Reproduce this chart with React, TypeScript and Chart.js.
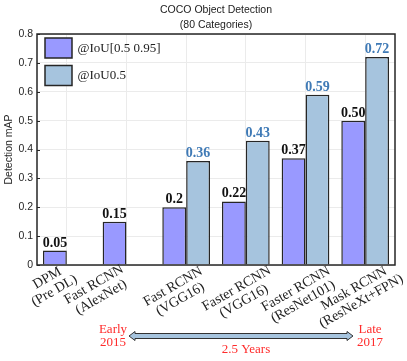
import React, { useEffect, useRef } from "react";
import { Chart, registerables } from "chart.js";

Chart.register(...registerables);

const categories: string[][] = [
  ["DPM", "(Pre DL)"],
  ["Fast RCNN", "(AlexNet)"],
  ["Fast RCNN", "(VGG16)"],
  ["Faster RCNN", "(VGG16)"],
  ["Faster RCNN", "(ResNet101)"],
  ["Mask RCNN", "(ResNeXt+FPN)"],
];
const iouRange: (number | null)[] = [0.05, 0.15, 0.2, 0.22, 0.37, 0.5];
const iou50: (number | null)[] = [null, null, 0.36, 0.43, 0.59, 0.72];
const iouRangeText: string[] = ["0.05", "0.15", "0.2", "0.22", "0.37", "0.50"];
const iou50Text: string[] = ["", "", "0.36", "0.43", "0.59", "0.72"];
const seriesNames: string[] = ["@IoU[0.5 0.95]", "@IoU0.5"];
const yTicks: string[] = ["0", "0.1", "0.2", "0.3", "0.4", "0.5", "0.6", "0.7", "0.8"];
const titleLines: string[] = ["COCO Object Detection", "(80 Categories)"];

// label placement (style): offset of rotated label block centre from its tick
const labelDx: number[] = [-16, -29, -9.5, -5.5, -6, -7.5];
const labelDy: number[] = [19.5, 26, 28, 30, 30.5, 30];

const PURPLE = "#9999ff";
const LIGHTBLUE = "#a6c4de";
const EDGE = "#262626";
const VALBLUE = "#3f7ab6";
const RED = "#ff2b2b";
const SERIF = "'Liberation Serif', 'Times New Roman', serif";
const SANS = "'Liberation Sans', Arial, sans-serif";

const decorPlugin = {
  id: "decor",
  afterDatasetsDraw(chart: any) {
    const ctx = chart.ctx;
    const ca = chart.chartArea;
    const xs = chart.scales.x;
    const ys = chart.scales.y;
    ctx.save();

    // inner tick marks on y axis
    ctx.strokeStyle = EDGE;
    ctx.lineWidth = 1;
    yTicks.forEach((_, i) => {
      const y = Math.round(ys.getPixelForValue(i * 0.1)) + 0.5;
      ctx.beginPath();
      ctx.moveTo(ca.left, y);
      ctx.lineTo(ca.left + 3, y);
      ctx.stroke();
    });

    // plot box
    ctx.strokeStyle = EDGE;
    ctx.lineWidth = 1.5;
    ctx.strokeRect(ca.left, ca.top, ca.right - ca.left, ca.bottom - ca.top);

    // value labels
    ctx.font = `bold 14px ${SERIF}`;
    ctx.textAlign = "center";
    ctx.textBaseline = "alphabetic";
    const texts = [iouRangeText, iou50Text];
    const colors = ["#111111", VALBLUE];
    [0, 1].forEach((d) => {
      const meta = chart.getDatasetMeta(d);
      meta.data.forEach((bar: any, i: number) => {
        const t = texts[d][i];
        if (!t) return;
        ctx.fillStyle = colors[d];
        ctx.fillText(t, bar.x, bar.y - 4);
      });
    });

    // legend
    const fills = [PURPLE, LIGHTBLUE];
    ctx.font = `13px ${SERIF}`;
    ctx.textAlign = "left";
    ctx.textBaseline = "middle";
    seriesNames.forEach((name, i) => {
      const x = ca.left + 8;
      const y = ca.top + 4 + i * 27.5;
      ctx.fillStyle = fills[i];
      ctx.fillRect(x, y, 27, 20);
      ctx.strokeStyle = EDGE;
      ctx.lineWidth = 1.5;
      ctx.strokeRect(x, y, 27, 20);
      ctx.fillStyle = "#222222";
      ctx.fillText(name, x + 32.5, y + 10.5);
    });

    // title
    ctx.font = `10.5px ${SANS}`;
    ctx.fillStyle = "#222222";
    ctx.textAlign = "center";
    const cx = (ca.left + ca.right) / 2;
    ctx.fillText(titleLines[0], cx, 10.5);
    ctx.fillText(titleLines[1], cx, 25);

    // rotated category labels
    ctx.font = `14px ${SERIF}`;
    ctx.fillStyle = "#222222";
    ctx.textAlign = "center";
    ctx.textBaseline = "middle";
    const lh = 14.5;
    categories.forEach((lines, i) => {
      const tx = xs.getPixelForValue(i) + labelDx[i];
      const ty = ca.bottom + labelDy[i];
      ctx.save();
      ctx.translate(tx, ty);
      ctx.rotate(-Math.PI / 6);
      lines.forEach((ln, k) => {
        ctx.fillText(ln, 0, (k - (lines.length - 1) / 2) * lh);
      });
      ctx.restore();
    });

    // time span annotation
    const ay = 336;
    const ax0 = 129;
    const ax1 = 353;
    const hl = 6;
    const hh = 4.5;
    const sh = 2.5;
    ctx.beginPath();
    ctx.moveTo(ax0, ay);
    ctx.lineTo(ax0 + hl, ay - hh);
    ctx.lineTo(ax0 + hl, ay - sh);
    ctx.lineTo(ax1 - hl, ay - sh);
    ctx.lineTo(ax1 - hl, ay - hh);
    ctx.lineTo(ax1, ay);
    ctx.lineTo(ax1 - hl, ay + hh);
    ctx.lineTo(ax1 - hl, ay + sh);
    ctx.lineTo(ax0 + hl, ay + sh);
    ctx.lineTo(ax0 + hl, ay + hh);
    ctx.closePath();
    ctx.fillStyle = LIGHTBLUE;
    ctx.fill();
    ctx.strokeStyle = "#333333";
    ctx.lineWidth = 1;
    ctx.stroke();

    ctx.font = `13px ${SERIF}`;
    ctx.fillStyle = RED;
    ctx.textAlign = "center";
    ctx.textBaseline = "middle";
    ctx.fillText("Early", 113, 330);
    ctx.fillText("2015", 113, 342.5);
    ctx.fillText("Late", 370, 330);
    ctx.fillText("2017", 370, 342.5);
    ctx.fillText("2.5 Years", 246, 350);

    ctx.restore();
  },
};

export default function App() {
  const ref = useRef<HTMLCanvasElement | null>(null);
  useEffect(() => {
    if (!ref.current) return;
    const chart = new Chart(ref.current, {
      type: "bar",
      data: {
        labels: categories.map((c) => c.join(" ")),
        datasets: [
          {
            label: seriesNames[0],
            data: iouRange,
            backgroundColor: PURPLE,
            borderColor: EDGE,
            borderWidth: 1.5,
            categoryPercentage: 0.8,
            barPercentage: 1.0,
          },
          {
            label: seriesNames[1],
            data: iou50,
            backgroundColor: LIGHTBLUE,
            borderColor: EDGE,
            borderWidth: 1.5,
            categoryPercentage: 0.8,
            barPercentage: 1.0,
          },
        ],
      },
      options: {
        responsive: false,
        animation: false,
        layout: { padding: { left: 0, top: 34, right: 12, bottom: 0 } },
        plugins: {
          legend: { display: false },
          title: { display: false },
          tooltip: { enabled: false },
        },
        scales: {
          x: {
            offset: true,
            grid: { display: true, offset: false, color: "#ebebeb", drawTicks: false },
            border: { display: false },
            ticks: { display: false },
            afterFit: (s: any) => {
              s.height = 96;
            },
          },
          y: {
            min: 0,
            max: 0.8,
            grid: { color: "#ebebeb", drawTicks: false },
            border: { display: false },
            ticks: {
              stepSize: 0.1,
              padding: 4,
              color: "#262626",
              font: { family: SANS, size: 10.5 },
              callback: (_v: any, i: number) => yTicks[i],
            },
            title: {
              display: true,
              text: "Detection mAP",
              color: "#262626",
              font: { family: SANS, size: 10.5 },
              padding: { top: 3, bottom: 0 },
            },
            afterFit: (s: any) => {
              s.width = 37;
            },
          },
        },
      },
      plugins: [decorPlugin],
    });
    return () => chart.destroy();
  }, []);
  return (
    <div style={{ position: "fixed", left: 0, top: 0, width: 407, height: 361, background: "#fff" }}>
      <canvas ref={ref} width={407} height={361} style={{ display: "block" }} />
    </div>
  );
}
